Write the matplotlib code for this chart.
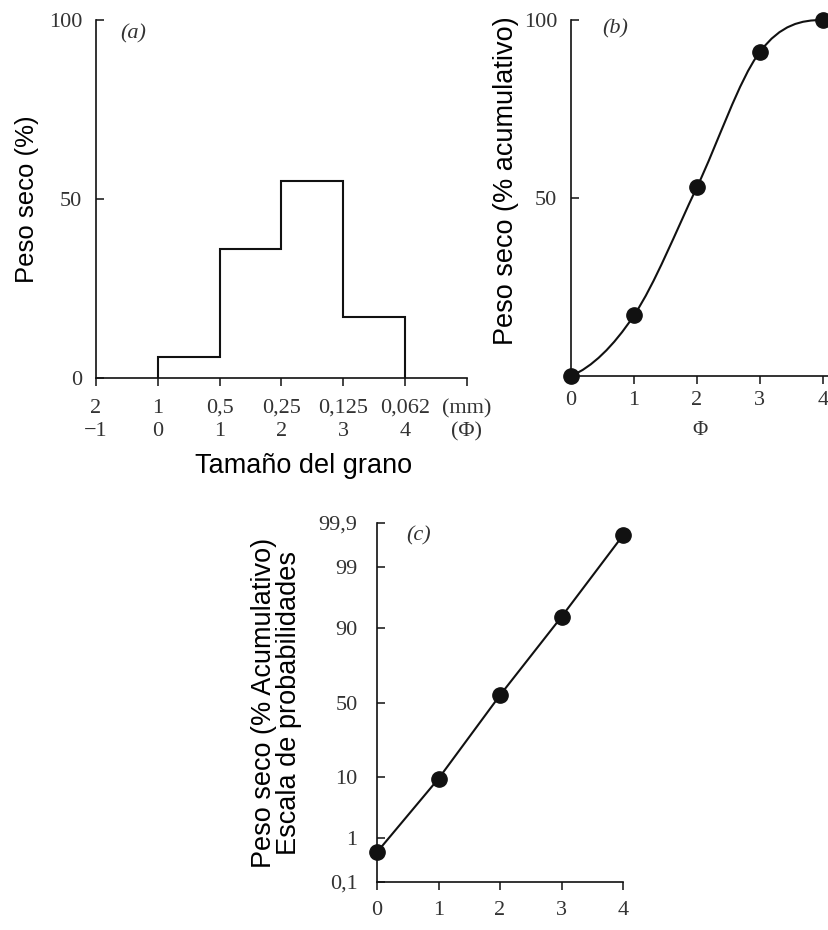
import numpy as np
import matplotlib.pyplot as plt
from matplotlib.path import Path
from matplotlib.patches import PathPatch
from statistics import NormalDist

# (a) histogram: weight % per phi class
phi_edges = [0, 1, 2, 3, 4]
peso_pct = [6, 36, 55, 17]
a_ticks = [-1, 0, 1, 2, 3, 4, 5]
a_mm = ['2', '1', '0,5', '0,25', '0,125', '0,062', '(mm)']
a_phi = ['\u22121', '0', '1', '2', '3', '4', '(\u03a6)']

# (b) cumulative curve
phi_b = [0, 1, 2, 3, 4]
cum_b = [0, 17, 53, 91, 100]

# (c) cumulative on probability scale
phi_c = [0, 1, 2, 3, 4]
cum_c = [0.5, 9.5, 55, 93, 99.8]
c_yticks = [0.1, 1, 10, 50, 90, 99, 99.9]
c_ylabels = ['0,1', '1', '10', '50', '90', '99', '99,9']

serif = 'Liberation Serif'
sans = 'Liberation Sans'
ink = '#111111'
tick_col = '#333333'

plt.rcParams['font.family'] = sans

fig = plt.figure(figsize=(8.29, 9.30), dpi=100)


def style(ax, ypad=10, xpad=6):
    for s in ['top', 'right']:
        ax.spines[s].set_visible(False)
    for s in ['left', 'bottom']:
        ax.spines[s].set_linewidth(1.2)
        ax.spines[s].set_color(ink)
    ax.tick_params(axis='y', direction='in', length=6, width=1.1, pad=ypad,
                   labelsize=16, labelcolor=tick_col, color=ink)
    ax.tick_params(axis='x', direction='out', length=6, width=1.1, pad=xpad,
                   labelsize=16, labelcolor=tick_col, color=ink)
    for lab in ax.get_xticklabels() + ax.get_yticklabels():
        lab.set_fontfamily(serif)


def smooth_path(xs, ys):
    # cubic Bezier segments through the points (Catmull-Rom tangents)
    p = np.column_stack([xs, ys]).astype(float)
    n = len(p)
    m = np.zeros_like(p)
    for i in range(1, n - 1):
        m[i] = (p[i + 1] - p[i - 1]) / 2
    m[0] = 2 * (p[1] - p[0]) - m[1]
    m[-1] = 2 * (p[-1] - p[-2]) - m[-2]
    m[0, 1] = max(m[0, 1], 0)
    m[-1, 1] = max(m[-1, 1], 0)
    verts = [p[0]]
    codes = [Path.MOVETO]
    for i in range(n - 1):
        verts += [p[i] + m[i] / 3, p[i + 1] - m[i + 1] / 3, p[i + 1]]
        codes += [Path.CURVE4] * 3
    return Path(verts, codes)


# ---- (a)
ax1 = fig.add_axes([0.1158, 0.5935, 0.4475, 0.385])
ax1.stairs(peso_pct, phi_edges, baseline=0, color=ink, linewidth=1.5)
ax1.set_xlim(-1, 5)
ax1.set_ylim(0, 100)
ax1.set_yticks([0, 50, 100])
ax1.set_xticks(a_ticks)
ax1.set_xticklabels([f'{m}\n{p}' for m, p in zip(a_mm, a_phi)], linespacing=1.3)
style(ax1, xpad=9)
ax1.set_ylabel('Peso seco (%)', fontsize=18.5, labelpad=7)
ax1.set_xlabel('Tamaño del grano', fontsize=19.5)
ax1.xaxis.set_label_coords(0.56, -0.21)
ax1.text(0.065, 0.96, '(a)', transform=ax1.transAxes, fontfamily=serif,
         style='italic', fontsize=16, color=tick_col, va='center')

# ---- (b)
ax2 = fig.add_axes([0.6888, 0.5957, 0.3112, 0.3828])
ax2.add_patch(PathPatch(smooth_path(phi_b, cum_b), facecolor='none',
                        edgecolor=ink, linewidth=1.5, clip_on=False))
ax2.plot(phi_b, cum_b, 'o', color=ink, markersize=11, clip_on=False, zorder=3)
ax2.set_xlim(0, 4.1)
ax2.set_ylim(0, 100)
ax2.set_yticks([50, 100])
ax2.set_xticks([0, 1, 2, 3, 4])
style(ax2, xpad=5)
ax2.set_xlabel('\u03a6', fontfamily=serif, fontsize=15, color=tick_col, labelpad=8)
ax2.set_ylabel('Peso seco (% acumulativo)', fontsize=19.5)
ax2.yaxis.set_label_coords(-0.2, 0.55)
ax2.text(0.12, 0.975, '(b)', transform=ax2.transAxes, fontfamily=serif,
         style='italic', fontsize=16, color=tick_col, va='center')

# ---- (c) normal probability scale
nd = NormalDist()
fwd = np.vectorize(lambda v: nd.inv_cdf(min(max(v / 100.0, 1e-6), 1 - 1e-6)), otypes=[float])
inv = np.vectorize(lambda z: nd.cdf(z) * 100.0, otypes=[float])

ax3 = fig.add_axes([0.4548, 0.0516, 0.2967, 0.386])
ax3.set_yscale('function', functions=(fwd, inv))
ax3.plot(phi_c, cum_c, '-', color=ink, linewidth=1.5, clip_on=False)
ax3.plot(phi_c, cum_c, 'o', color=ink, markersize=11, clip_on=False, zorder=3)
ax3.set_xlim(0, 4)
ax3.set_ylim(0.1, 99.9)
ax3.set_yticks(c_yticks)
ax3.set_yticklabels(c_ylabels)
ax3.minorticks_off()
ax3.set_xticks([0, 1, 2, 3, 4])
style(ax3, ypad=14, xpad=8)
ax3.set_ylabel('Peso seco (% Acumulativo)\nEscala de probabilidades', fontsize=19.5,
               labelpad=12, linespacing=0.95)
ax3.text(0.12, 0.965, '(c)', transform=ax3.transAxes, fontfamily=serif,
         style='italic', fontsize=16, color=tick_col, va='center')

fig.savefig('out.png', dpi=100)
